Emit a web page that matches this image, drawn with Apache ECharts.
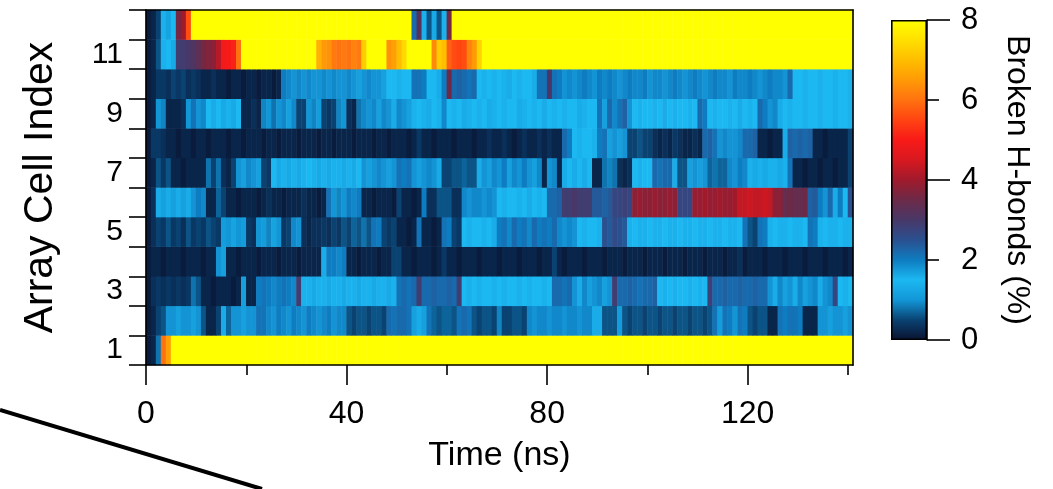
<!DOCTYPE html>
<html><head><meta charset="utf-8">
<script src="https://cdn.jsdelivr.net/npm/echarts@6/dist/echarts.min.js"></script>
<style>html,body{margin:0;padding:0;background:#fff}#c{width:1053px;height:489px}</style>
</head><body><div id="c"></div>
<script>
// Array cell indices (rows, bottom to top)
const cellLabels = ['1','2','3','4','5','6','7','8','9','10','11','12'];
// Tick labels / tick positions
const timeMajorTicks = [0, 40, 80, 120];
const timeMinorTicks = [20, 60, 100, 140];
const cbLabels = [0, 2, 4, 6, 8];
const cbMajorTicks = [0, 4, 8];
const cbMinorTicks = [2, 6];
// Colour scale for broken H-bonds (%) 0..8, evenly spaced stops
const colorStops = ['#0a1230','#0a4272','#1296d6','#1cb8f2','#0e7cc0','#2a5090','#483868','#6c2a48','#a01a2c','#d81820','#f81a18','#ff4412','#ff7210','#ff9a06','#ffbe00','#ffe000','#ffff00'];

// Broken H-bonds (%) per 1 ns bin, t = 0..140 ns
const r1 = [0.1,0.2,0.8,6.0,6.6,8,8,8,8,8,
8,8,8,8,8,8,8,8,8,8, 8,8,8,8,8,8,8,8,8,8, 8,8,8,8,8,8,8,8,8,8, 8,8,8,8,8,8,8,8,8,8,
8,8,8,8,8,8,8,8,8,8, 8,8,8,8,8,8,8,8,8,8, 8,8,8,8,8,8,8,8,8,8, 8,8,8,8,8,8,8,8,8,8,
8,8,8,8,8,8,8,8,8,8, 8,8,8,8,8,8,8,8,8,8, 8,8,8,8,8,8,8,8,8,8, 8,8,8,8,8,8,8,8,8,8,
8,8,8,8,8,8,8,8,8,8, 8];
const r2 = [0.1,0.2,0.5,0.6,1.8,1.8,1.7,1.8,1.8,1.7,
1.8,0.6,0.2,0.2,0.5,1.6,0.7,1.8,1.8,1.7,
1.8,1.8,2.1,2.1,1.9,1.8,2.0,1.9,1.8,2.0,
1.9,1.8,2.0,1.9,1.8,1.9,2.0,1.8,1.9,1.9,
0.6,0.5,0.6,0.6,0.5,0.6,0.6,0.5,2.2,2.1,
2.2,2.2,2.1,1.7,1.6,1.7,2.1,0.7,0.6,0.7,
0.7,0.6,2.1,2.2,2.1,0.6,0.5,0.6,0.6,0.5,
0.9,0.5,0.5,0.6,0.6,0.5,1.9,1.8,1.9,1.9,
1.8,1.9,1.9,1.8,1.9,1.9,1.8,1.9,1.9,1.6,
1.6,0.6,0.6,0.6,1.1,0.6,0.5,0.6,0.6,0.5,
0.6,0.6,0.5,0.6,0.6,0.5,0.6,0.6,0.5,0.6,
0.6,0.5,0.6,2.1,1.1,2.1,2.0,1.0,2.1,2.0,
0.6,0.5,0.6,0.6,0.2,0.2,2.1,2.0,2.1,2.1,
2.0,0.2,0.2,0.2,1.8,1.8,1.7,1.8,1.8,1.7,1.8];
const r3 = [0.1,0.3,0.4,0.3,0.4,0.3,0.4,0.3,0.4,0.8,
0.6,0.2,0.2,0.1,0.2,0.2,0.2,0.1,0.2,1.7,
0.2,0.2,2.0,2.1,2.0,1.9,2.0,2.1,2.0,1.9,
2.9,1.4,1.4,1.3,1.4,1.4,1.3,1.4,1.4,1.3,
1.4,1.4,1.3,1.4,1.4,1.3,1.4,1.4,1.3,1.4,
2.1,2.2,2.1,2.2,2.9,2.2,2.2,2.3,2.2,2.2,
2.3,2.2,2.9,1.5,1.4,1.5,1.4,1.5,1.5,1.4,
1.5,1.4,1.5,1.5,1.4,1.5,1.4,1.5,1.5,1.4,
1.5,2.2,2.2,2.1,2.2,1.8,1.6,1.9,1.7,1.8,
1.9,1.7,1.8,2.9,2.2,2.2,2.3,2.2,2.1,2.2,
2.2,2.3,1.5,1.4,1.5,1.4,1.5,1.5,1.4,1.5,
1.4,1.5,2.8,2.2,2.2,2.3,2.2,2.2,2.3,2.2,
2.2,2.3,2.2,2.2,1.8,1.6,1.9,1.7,1.8,1.6,
1.9,1.7,1.8,1.9,1.6,1.8,1.9,2.7,1.5,1.4,1.5];
const r4 = [0.1,0.2,0.2,0.1,0.2,0.2,0.2,0.1,0.2,0.2,
0.2,0.1,0.2,0.2,1.8,1.7,0.2,0.2,0.1,0.2,
0.2,0.2,0.1,0.2,0.2,0.2,0.1,0.2,0.2,0.2,
0.1,0.2,0.2,0.2,0.2,1.6,2.0,2.0,1.9,2.0,
0.2,0.2,0.1,0.2,0.2,0.2,0.1,0.2,0.2,0.5,
0.5,0.2,0.2,0.1,0.2,0.2,0.2,0.1,0.2,0.4,
0.2,0.2,0.1,0.2,0.2,0.2,0.1,0.2,0.2,0.2,
0.1,0.2,0.2,0.2,0.1,0.2,0.2,0.2,0.1,0.2,
0.2,0.5,0.2,0.1,0.2,0.2,0.2,0.1,0.2,0.2,
0.2,0.1,0.2,0.2,0.2,0.1,0.2,0.2,0.2,0.1,
0.2,0.2,0.2,0.1,0.2,0.2,0.2,0.1,0.2,0.2,
0.2,0.1,0.2,0.2,0.2,0.1,0.2,0.2,0.3,0.1,
0.2,0.2,0.2,0.1,0.2,0.2,0.2,0.1,0.2,0.2,
0.2,0.1,0.2,0.2,0.2,0.1,0.2,0.2,0.2,0.1,0.2];
const r5 = [0.1,0.3,0.5,0.4,0.6,0.4,0.5,0.3,0.6,0.4,
0.5,0.4,0.6,0.5,0.4,1.1,1.0,1.2,1.0,1.1,
0.4,0.3,1.0,1.1,0.9,1.2,1.0,0.4,0.5,1.9,
1.8,0.3,0.2,0.3,0.3,0.4,0.3,0.5,0.4,0.6,
0.5,0.7,0.6,0.8,0.6,2.1,2.0,0.5,0.4,0.5,
0.2,0.2,0.1,0.2,2.1,0.2,0.2,0.1,0.2,2.1,
2.0,0.5,0.4,1.5,1.4,1.5,1.5,1.4,1.5,1.6,
2.0,2.1,1.9,2.2,2.0,2.1,1.9,2.2,2.0,2.1,
2.0,2.2,1.9,1.8,1.9,1.8,1.5,1.4,1.5,1.5,
1.4,2.5,2.4,2.6,2.5,2.4,1.4,1.5,1.4,1.4,
1.5,1.4,1.4,1.5,1.4,1.4,1.5,1.4,1.4,1.5,
1.4,1.4,1.5,1.4,1.4,1.5,1.4,1.4,1.5,2.1,
0.6,0.5,2.1,2.0,1.4,1.5,1.4,1.4,1.5,1.4,
1.4,1.5,2.1,2.0,1.4,1.5,1.4,1.4,1.5,1.4,1.4];
const r6 = [0.1,0.3,1.6,1.7,1.6,1.7,1.6,1.7,1.6,1.8,
2.0,1.9,0.2,0.2,0.7,0.5,0.2,0.2,0.1,0.2,
0.2,0.2,0.1,0.2,0.3,0.2,0.2,0.1,0.2,0.2,
0.2,0.3,0.2,0.2,0.1,0.2,2.1,1.0,0.9,1.0,
2.0,1.9,2.0,0.2,0.2,0.1,0.2,0.2,0.2,0.1,
0.5,0.2,0.2,0.1,0.2,2.0,0.3,0.3,0.6,0.6,
0.6,0.3,0.3,1.9,1.8,1.9,1.9,1.8,1.9,1.8,
1.5,1.4,1.5,1.5,1.4,1.5,1.6,1.5,1.4,1.5,
2.2,2.2,2.3,2.9,2.9,3.0,2.9,2.9,2.9,2.4,
2.4,2.3,2.4,2.7,2.7,2.8,2.7,3.8,3.9,3.8,
3.8,3.9,3.8,3.8,3.9,3.8,2.7,2.7,2.7,3.9,
3.9,4.0,3.9,3.9,4.0,3.9,3.9,4.0,4.3,4.3,
4.4,4.3,4.3,4.4,4.3,3.8,3.8,3.4,3.5,3.4,
3.4,3.5,2.3,2.4,2.0,1.8,2.2,1.6,2.0,1.5,2.5];
const r7 = [0.1,0.2,0.6,0.4,0.6,0.2,0.2,0.1,0.2,0.2,
0.2,0.2,0.8,0.5,0.8,0.3,0.2,0.5,1.8,1.7,
1.9,1.8,1.7,0.5,0.4,1.5,1.3,1.4,1.3,1.4,
1.3,1.4,1.5,1.4,1.3,1.4,1.3,1.4,1.4,1.3,
1.4,1.3,1.5,1.8,1.7,1.8,1.9,1.8,1.7,1.8,
2.1,2.0,2.1,1.8,1.7,1.8,1.9,1.8,1.3,0.5,
0.5,0.6,0.6,0.7,0.6,0.6,1.6,1.8,1.7,1.9,
1.8,2.0,1.7,1.9,1.8,2.0,1.8,1.7,1.9,0.2,
1.8,1.9,0.2,1.6,1.5,1.6,1.5,1.6,1.5,0.2,
0.2,0.8,0.9,0.8,0.3,0.2,0.3,1.5,1.4,1.5,
1.5,2.2,2.1,2.2,2.2,1.6,0.6,0.6,1.7,1.8,
1.7,1.8,0.7,0.8,0.7,0.7,1.9,1.8,2.0,1.9,
1.4,1.3,1.4,1.3,1.4,1.4,1.3,1.4,2.1,0.2,
0.2,0.1,0.2,0.2,0.1,0.2,0.2,0.1,0.2,0.2,0.5];
const r8 = [0.1,0.4,0.4,0.3,0.2,0.2,0.1,0.2,0.2,0.1,
0.2,0.2,0.1,0.2,0.2,0.2,0.1,0.2,0.2,0.1,
0.2,0.2,0.2,0.1,0.2,0.2,0.1,0.2,0.2,0.2,
0.1,0.2,0.2,0.2,0.1,0.2,0.2,0.1,0.2,0.2,
0.2,0.1,0.2,0.2,0.2,0.1,0.2,0.2,0.1,0.2,
0.2,0.2,0.1,0.2,0.4,0.2,0.2,0.1,0.2,0.2,
0.2,0.1,0.2,0.2,0.2,0.1,0.2,0.2,0.3,0.2,
0.2,0.3,0.2,0.1,0.2,0.3,0.2,0.2,0.3,0.2,
0.3,0.2,0.2,2.2,2.0,1.5,1.4,1.5,1.5,1.4,
2.0,2.1,1.7,1.8,1.7,1.8,0.5,0.5,0.6,0.5,
0.5,0.3,0.2,0.3,0.2,0.4,0.3,0.2,0.2,0.3,
0.2,2.2,2.3,2.1,1.8,1.9,1.8,1.8,1.9,2.2,
2.2,2.3,0.2,0.2,0.1,0.2,0.2,1.6,2.3,2.2,
2.3,2.2,2.3,0.2,0.2,0.1,0.2,0.2,0.2,0.2,0.5];
const r9 = [0.1,0.2,1.0,0.9,0.2,0.2,0.2,0.3,1.0,2.1,
1.8,1.9,1.5,1.6,1.5,1.3,1.4,1.3,1.5,0.2,
0.2,0.3,0.2,0.9,1.0,0.8,1.8,1.9,1.7,1.9,
0.5,0.5,1.0,0.9,1.1,0.5,0.4,0.5,0.9,1.0,
0.3,0.2,0.8,1.9,1.8,1.9,1.7,1.9,1.8,1.6,
1.9,1.8,1.7,1.4,1.5,1.4,1.6,1.5,1.4,1.9,
1.5,1.4,1.5,1.6,1.4,1.5,1.4,1.5,1.6,1.4,
1.5,1.4,1.5,1.5,1.6,1.4,1.5,1.4,1.5,1.6,
1.5,1.4,1.5,1.4,1.5,1.5,1.6,1.4,1.5,1.5,
2.1,1.7,2.2,1.9,2.1,2.3,1.8,1.5,1.4,1.5,
1.5,1.4,1.5,1.6,1.5,1.4,1.5,1.5,1.4,1.5,
2.2,2.0,1.5,1.4,1.5,1.5,1.4,1.5,1.6,1.5,
1.4,1.5,2.2,2.0,1.8,1.9,1.6,1.5,1.4,1.5,
1.5,1.4,1.5,1.5,1.4,1.5,1.5,1.4,1.5,1.5,1.4];
const r10 = [0.1,0.2,0.4,0.4,0.3,0.5,0.4,0.5,0.3,0.4,
0.3,0.2,0.2,0.3,0.2,0.2,0.1,0.2,0.2,0.1,
0.2,0.2,0.1,0.2,0.2,0.1,0.2,2.0,1.9,1.8,
1.9,1.8,1.9,1.8,1.8,1.9,1.8,1.9,1.8,1.8,
1.9,1.8,1.7,1.8,1.9,1.8,1.8,1.7,1.5,1.5,
1.4,1.5,1.5,2.1,2.1,2.0,1.5,1.5,1.6,2.0,
3.5,2.2,2.3,2.2,2.1,2.2,1.5,1.4,1.5,1.4,
1.5,1.4,1.6,1.5,1.4,1.5,1.5,1.6,2.1,2.1,
3.0,2.1,2.0,1.8,1.9,1.8,1.9,2.0,1.9,1.8,
2.0,1.9,2.0,1.9,1.8,1.9,2.0,1.9,1.9,2.0,
1.8,1.9,1.9,1.8,1.9,2.0,1.9,1.8,1.9,2.0,
1.9,1.8,1.9,2.0,1.9,1.9,1.8,2.0,1.9,1.9,
2.0,1.9,1.8,1.9,2.0,1.9,1.9,1.8,2.2,1.5,
1.5,1.4,1.5,1.5,1.4,1.5,1.5,1.4,1.5,1.5,1.4];
const r11 = [0.1,0.2,0.6,1.4,1.5,1.3,2.9,2.9,3.0,3.1,
3.3,3.6,3.7,3.8,4.2,4.9,5.0,5.1,6.0,8,
8,8,8,8,8,8,8,8,8,8,
8,8,8,8,6.8,6.5,6.4,6.1,6.0,6.1,
6.0,6.2,6.1,7.2,8,8,8,8,6.4,6.6,
7.0,7.4,8,8,8,8,8,6.3,7.2,7.0,
5.8,5.6,5.5,5.6,6.2,6.5,7.3,8,8,8,
8,8,8,8,8,8,8,8,8,8, 8,8,8,8,8,8,8,8,8,8, 8,8,8,8,8,8,8,8,8,8,
8,8,8,8,8,8,8,8,8,8, 8,8,8,8,8,8,8,8,8,8, 8,8,8,8,8,8,8,8,8,8,
8,8,8,8,8,8,8,8,8,8, 8];
const r12 = [0.1,0.2,0.5,1.4,1.2,1.5,3.6,4.0,5.6,8,
8,8,8,8,8,8,8,8,8,8, 8,8,8,8,8,8,8,8,8,8, 8,8,8,8,8,8,8,8,8,8, 8,8,8,8,8,8,8,8,8,8,
8,8,8,2.2,3.2,1.4,0.6,1.3,0.6,1.4,
3.6,8,8,8,8,8,8,8,8,8,
8,8,8,8,8,8,8,8,8,8, 8,8,8,8,8,8,8,8,8,8, 8,8,8,8,8,8,8,8,8,8,
8,8,8,8,8,8,8,8,8,8, 8,8,8,8,8,8,8,8,8,8, 8,8,8,8,8,8,8,8,8,8,
8,8,8,8,8,8,8,8,8,8, 8];

const rows = [r1, r2, r3, r4, r5, r6, r7, r8, r9, r10, r11, r12];
const timeBins = r1.map((_, i) => String(i));
const heatData = [];
rows.forEach((row, y) => row.forEach((v, x) => heatData.push([x, y, v])));

const FONT = 'Liberation Sans, Arial, Helvetica, sans-serif';
const black = { color: '#000', width: 1.6 };
const txt = (s) => ({ fontSize: s, color: '#000', fontFamily: FONT });

const chart = echarts.init(document.getElementById('c'), null, { renderer: 'canvas' });
chart.setOption({
  animation: false,
  backgroundColor: '#fff',
  grid: [
    { left: 146, top: 10, width: 707, height: 355, show: false },
    { left: 891, top: 20, width: 36, height: 320, show: false }
  ],
  xAxis: [
    { type: 'category', gridIndex: 0, data: timeBins, show: false, boundaryGap: true },
    { type: 'value', gridIndex: 0, min: 0, max: 141, position: 'bottom', z: 10,
      axisLine: { show: true, onZero: false, lineStyle: black },
      axisTick: { show: true, customValues: timeMajorTicks, length: 20, lineStyle: black },
      axisLabel: { customValues: timeMajorTicks, margin: 33, ...txt(32) },
      splitLine: { show: false },
      name: 'Time (ns)', nameLocation: 'middle', nameGap: 74, nameTextStyle: txt(34) },
    { type: 'value', gridIndex: 0, min: 0, max: 141, position: 'bottom', z: 10,
      axisLine: { show: false, onZero: false },
      axisTick: { show: true, customValues: timeMinorTicks, length: 10, lineStyle: black },
      axisLabel: { show: false }, splitLine: { show: false } },
    { type: 'value', gridIndex: 0, min: 0, max: 141, position: 'top', z: 10,
      axisLine: { show: true, onZero: false, lineStyle: black },
      axisTick: { show: false }, axisLabel: { show: false }, splitLine: { show: false } },
    { type: 'category', gridIndex: 1, data: ['bar'], show: false }
  ],
  yAxis: [
    { type: 'category', gridIndex: 0, data: cellLabels, boundaryGap: true, z: 10,
      axisLine: { show: true, onZero: false, lineStyle: black },
      axisTick: { show: true, interval: 0, length: 17, lineStyle: black },
      axisLabel: { interval: 1, margin: 23, ...txt(30) },
      name: 'Array Cell Index', nameLocation: 'middle', nameGap: 85, nameRotate: 90,
      nameTextStyle: txt(41) },
    { type: 'value', gridIndex: 0, min: 0, max: 1, position: 'right', z: 10,
      axisLine: { show: true, onZero: false, lineStyle: black },
      axisTick: { show: false }, axisLabel: { show: false }, splitLine: { show: false } },
    { type: 'value', gridIndex: 1, min: 0, max: 8, position: 'right', z: 10,
      axisLine: { show: true, onZero: false, lineStyle: black },
      axisTick: { show: true, customValues: cbMajorTicks, length: 23, lineStyle: black },
      axisLabel: { customValues: cbLabels, margin: 34, ...txt(31) },
      splitLine: { show: false },
      name: 'Broken H-bonds (%)', nameLocation: 'middle', nameRotate: -90, nameGap: 74,
      nameTextStyle: txt(32) },
    { type: 'value', gridIndex: 1, min: 0, max: 8, position: 'right', z: 10,
      axisLine: { show: false, onZero: false },
      axisTick: { show: true, customValues: cbMinorTicks, length: 12, lineStyle: black },
      axisLabel: { show: false }, splitLine: { show: false } }
  ],
  visualMap: { type: 'continuous', min: 0, max: 8, show: false, seriesIndex: 0,
    inRange: { color: colorStops } },
  series: [
    { type: 'heatmap', xAxisIndex: 0, yAxisIndex: 0, data: heatData, emphasis: { disabled: true } },
    { type: 'bar', xAxisIndex: 4, yAxisIndex: 2, data: [8], barWidth: '100%', silent: true,
      itemStyle: { borderColor: '#000', borderWidth: 1.6,
        color: new echarts.graphic.LinearGradient(0, 1, 0, 0,
          colorStops.map((c, i) => ({ offset: i / (colorStops.length - 1), color: c }))) } }
  ],
  graphic: [
    { type: 'line', shape: { x1: 0, y1: 410, x2: 262, y2: 489 }, style: { stroke: '#000', lineWidth: 4 } }
  ]
});
</script></body></html>
